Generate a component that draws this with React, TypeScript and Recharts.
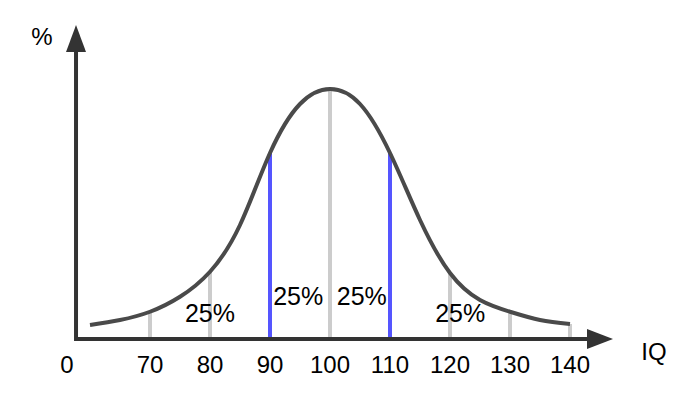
import { ComposedChart, Line, XAxis, YAxis, ReferenceLine, ReferenceDot } from 'recharts';

// bell curve (height in % units, peak = 100)
const iqPoints = [60, 65, 70, 75, 80, 85, 90, 95, 100, 105, 110, 115, 120, 125, 130, 135, 140];
const density = [5.6, 7.6, 10.9, 16.9, 26.9, 45.6, 74.4, 94, 100, 94, 74.4, 47.6, 26.4, 15.6, 10.9, 7.6, 6];

const tickValues = [70, 80, 90, 100, 110, 120, 130, 140];
const grayMarks = [70, 80, 100, 120, 130, 140];
const blueMarks = [90, 110];

const shareLabels = ['25%', '25%', '25%', '25%'];
const shareX = [80, 94.7, 105.3, 121.7];
const shareY = [6.8, 13.6, 13.6, 6.8];

const originX = 57.67;
const xArrowTip = 147.17;
const yArrowTip = 125.6;

const FONT = '"Liberation Sans", Arial, sans-serif';
const AXIS = '#333333';

const data = iqPoints.map((iq, i) => ({ iq, v: density[i] }));
const heightAt = (x: number) => density[iqPoints.indexOf(x)];

const XTick = (props: any) => (
  <text x={props.x} y={props.y + 34} textAnchor="middle" fontSize={24} fontFamily={FONT} fill="#000">
    {props.payload.value}
  </text>
);

export default function App() {
  return (
    <div style={{ position: 'absolute', left: 0, top: 0, background: '#fff' }}>
      <ComposedChart width={696} height={397} data={data} margin={{ top: 14, right: 66, bottom: 0, left: 60 }}>
        <XAxis
          dataKey="iq"
          type="number"
          domain={[55, 150]}
          ticks={tickValues}
          tick={XTick}
          axisLine={false}
          tickLine={false}
          tickSize={0}
          tickMargin={0}
          height={58}
          interval={0}
        />
        <YAxis type="number" domain={[0, 130]} hide />

        {grayMarks.map((x) => (
          <ReferenceLine key={'g' + x} segment={[{ x, y: 0 }, { x, y: heightAt(x) }]} stroke="#cccccc" strokeWidth={4} />
        ))}
        {blueMarks.map((x) => (
          <ReferenceLine key={'b' + x} segment={[{ x, y: 0 }, { x, y: heightAt(x) }]} stroke="#5555ff" strokeWidth={4} />
        ))}

        <Line dataKey="v" type="natural" stroke="#4a4a4a" strokeWidth={4} dot={false} isAnimationActive={false} />

        {/* axes with arrow heads */}
        <ReferenceLine segment={[{ x: 57.5, y: 0 }, { x: 143, y: 0 }]} stroke={AXIS} strokeWidth={4} ifOverflow="visible" />
        <ReferenceLine segment={[{ x: originX, y: -0.8 }, { x: originX, y: 115 }]} stroke={AXIS} strokeWidth={4} ifOverflow="visible" />
        <ReferenceDot
          x={xArrowTip}
          y={0}
          r={0}
          shape={(p: any) => <polygon points={`${p.cx},${p.cy} ${p.cx - 26},${p.cy - 10} ${p.cx - 26},${p.cy + 10}`} fill={AXIS} />}
        />
        <ReferenceDot
          x={originX}
          y={yArrowTip}
          r={0}
          shape={(p: any) => <polygon points={`${p.cx},${p.cy} ${p.cx - 10},${p.cy + 27} ${p.cx + 10},${p.cy + 27}`} fill={AXIS} />}
        />

        {/* origin, axis titles */}
        <ReferenceDot
          x={originX}
          y={0}
          r={0}
          shape={(p: any) => (
            <text x={p.cx - 9} y={p.cy + 34} textAnchor="middle" fontSize={24} fontFamily={FONT} fill="#000">0</text>
          )}
        />
        <ReferenceDot
          x={originX}
          y={yArrowTip}
          r={0}
          shape={(p: any) => (
            <text x={p.cx - 34} y={p.cy + 20} textAnchor="middle" fontSize={24} fontFamily={FONT} fill="#000">%</text>
          )}
        />
        <ReferenceDot
          x={xArrowTip}
          y={0}
          r={0}
          shape={(p: any) => (
            <text x={p.cx + 41} y={p.cy + 21} textAnchor="middle" fontSize={24} fontFamily={FONT} fill="#000">IQ</text>
          )}
        />

        {shareLabels.map((t, i) => (
          <ReferenceDot
            key={'s' + i}
            x={shareX[i]}
            y={shareY[i]}
            r={0}
            shape={(p: any) => (
              <text x={p.cx} y={p.cy} textAnchor="middle" fontSize={25} fontFamily={FONT} fill="#000">{t}</text>
            )}
          />
        ))}
      </ComposedChart>
    </div>
  );
}
